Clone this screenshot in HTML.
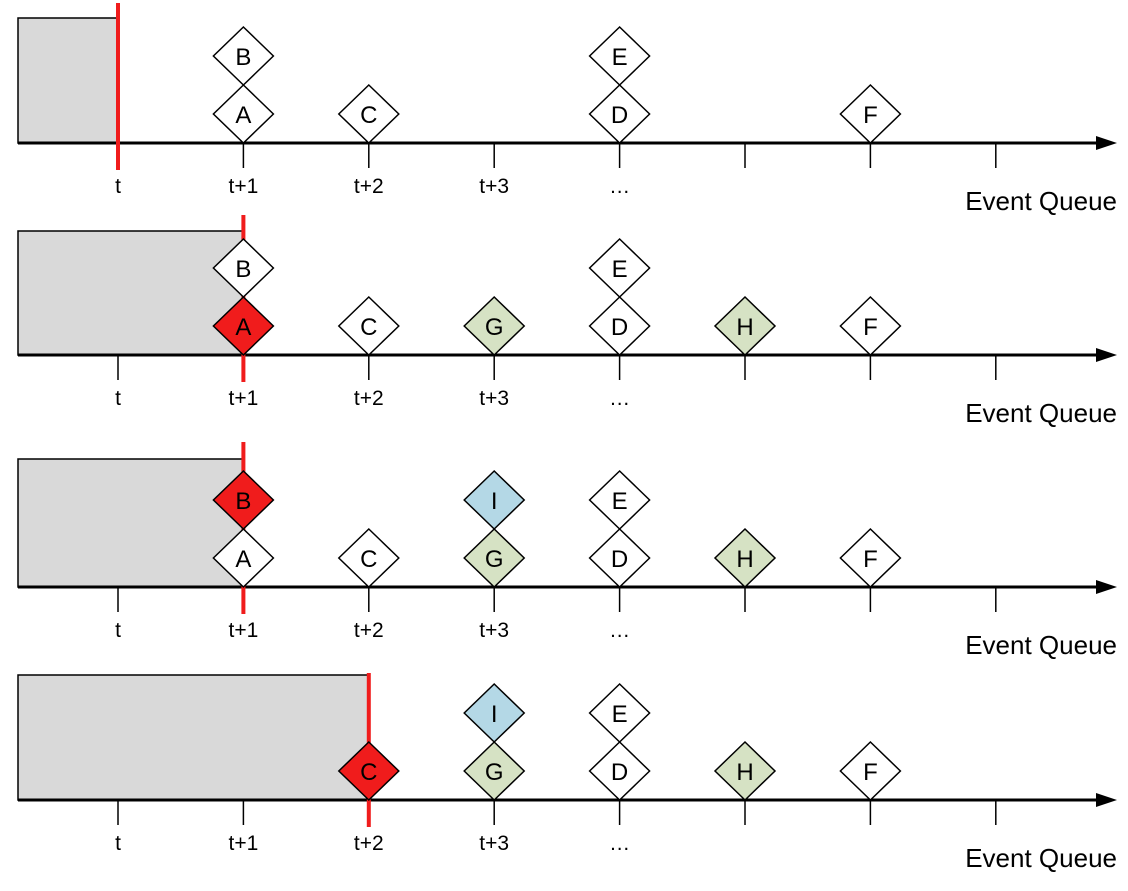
<!DOCTYPE html>
<html><head><meta charset="utf-8"><style>
body{margin:0;background:#fff}
svg text{font-family:"Liberation Sans",sans-serif;fill:#000}
</style></head><body>
<svg id="c" width="1128" height="886" xmlns="http://www.w3.org/2000/svg"></svg>
<script>
const tickLabels=["t","t+1","t+2","t+3","…","","",""];
const panelAxisY=[143,355,587,800];
const panelCursor=[0,1,1,2];
const panelBoxTop=[18,231,459,675];
const panelRedTop=[3,215,442,673];
// events: [panel, label, slot, level, color]
const events=[
[0,"A",1,0,"w"],[0,"B",1,1,"w"],[0,"C",2,0,"w"],[0,"D",4,0,"w"],[0,"E",4,1,"w"],[0,"F",6,0,"w"],
[1,"A",1,0,"r"],[1,"B",1,1,"w"],[1,"C",2,0,"w"],[1,"G",3,0,"g"],[1,"D",4,0,"w"],[1,"E",4,1,"w"],[1,"H",5,0,"g"],[1,"F",6,0,"w"],
[2,"A",1,0,"w"],[2,"B",1,1,"r"],[2,"C",2,0,"w"],[2,"G",3,0,"g"],[2,"I",3,1,"b"],[2,"D",4,0,"w"],[2,"E",4,1,"w"],[2,"H",5,0,"g"],[2,"F",6,0,"w"],
[3,"C",2,0,"r"],[3,"G",3,0,"g"],[3,"I",3,1,"b"],[3,"D",4,0,"w"],[3,"E",4,1,"w"],[3,"H",5,0,"g"],[3,"F",6,0,"w"]];
const colors={w:"#fff",r:"#f01c1c",g:"#d6e2c4",b:"#b4d8e6"};
const sx=i=>118+i*125.4;
const svg=document.getElementById('c');
const NS="http://www.w3.org/2000/svg";
function mk(t,a,p){const e=document.createElementNS(NS,t);for(const k in a)e.setAttribute(k,a[k]);(p||svg).appendChild(e);return e;}
panelAxisY.forEach((ay,p)=>{
  const g=mk('g',{});
  
  
  const box=mk('rect',{x:18,y:panelBoxTop[p],width:sx(panelCursor[p])-18,height:ay-panelBoxTop[p],fill:'#d9d9d9',stroke:'#000','stroke-width':1.5},g);
  
  
  const ax=mk('line',{x1:18,y1:ay,x2:1100,y2:ay,stroke:'#000','stroke-width':3},g);
  
  
  const ar=mk('polygon',{points:`1117,${ay} 1096,${ay-7} 1096,${ay+7}`,fill:'#000'},g);
  
  
  tickLabels.forEach((l,i)=>{
    const t=mk('line',{x1:sx(i),y1:ay,x2:sx(i),y2:ay+25,stroke:'#000','stroke-width':1.5},g);
    
    
    if(l){const tx=mk('text',{x:sx(i),y:ay+50,'text-anchor':'middle','font-size':21},g);tx.textContent=l;
    
    }
  });
  const eq=mk('text',{x:1117,y:ay+67,'text-anchor':'end','font-size':26},g);eq.textContent="Event Queue";
  
  
  const rx=sx(panelCursor[p]);
  const rl=mk('line',{x1:rx,y1:panelRedTop[p],x2:rx,y2:ay+27,stroke:'#f01c1c','stroke-width':4});
  
  
});
events.forEach(e=>{
  const ay=panelAxisY[e[0]],cx=sx(e[2]),cy=ay-29-e[3]*58;
  const g=mk('g',{});
  
  
  mk('polygon',{points:`${cx},${cy-29} ${cx+30},${cy} ${cx},${cy+29} ${cx-30},${cy}`,fill:colors[e[4]],stroke:'#000','stroke-width':1.5},g);
  const t=mk('text',{x:cx,y:cy+9,'text-anchor':'middle','font-size':24},g);t.textContent=e[1];
});
</script>
</body></html>
